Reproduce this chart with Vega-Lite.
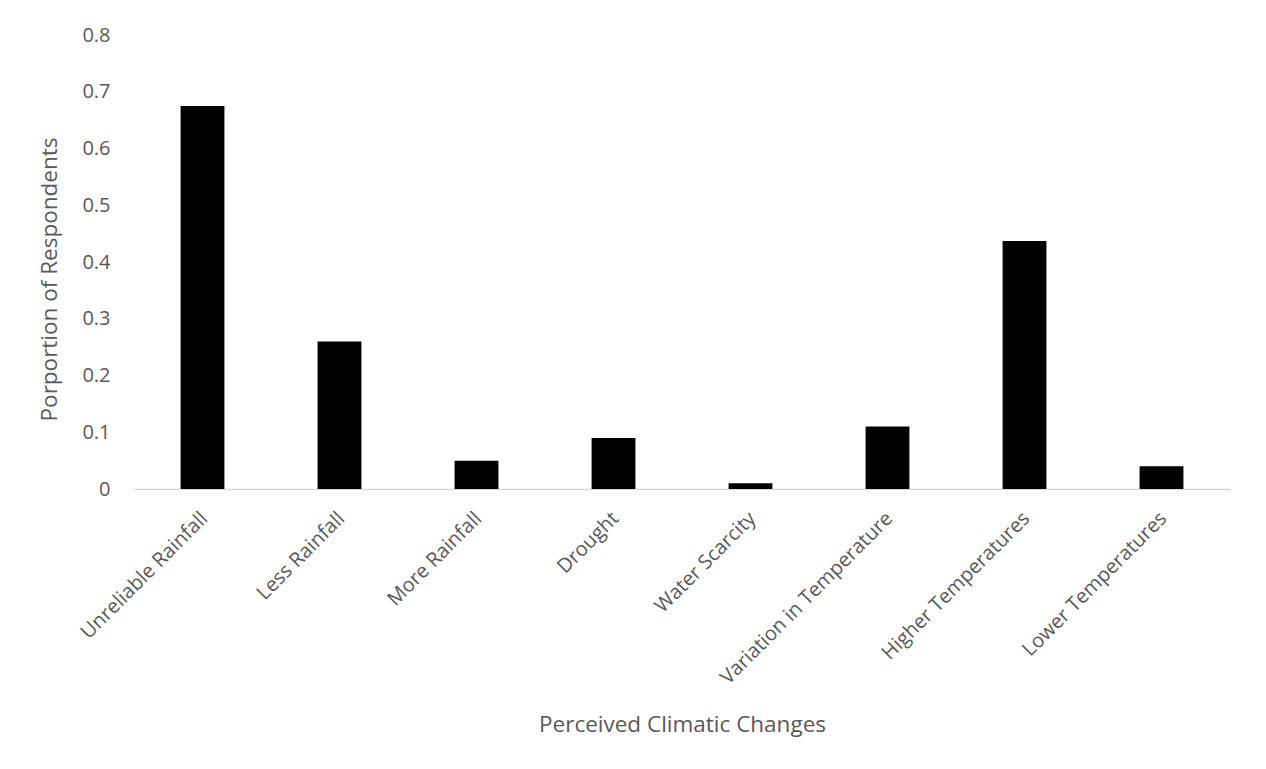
{
  "$schema": "https://vega.github.io/schema/vega-lite/v6.json",
  "autosize": "none",
  "width": 1096,
  "height": 454,
  "padding": {"left": 134, "top": 35, "right": 36, "bottom": 280},
  "background": "white",
  "data": {
    "values": [
      {"change": "Unreliable Rainfall", "proportion": 0.675},
      {"change": "Less Rainfall", "proportion": 0.26},
      {"change": "More Rainfall", "proportion": 0.05},
      {"change": "Drought", "proportion": 0.09},
      {"change": "Water Scarcity", "proportion": 0.01},
      {"change": "Variation in Temperature", "proportion": 0.11},
      {"change": "Higher Temperatures", "proportion": 0.437},
      {"change": "Lower Temperatures", "proportion": 0.04}
    ]
  },
  "mark": {"type": "bar", "color": "#000000"},
  "encoding": {
    "x": {
      "field": "change",
      "type": "nominal",
      "sort": null,
      "scale": {"paddingInner": 0.68, "paddingOuter": 0.34},
      "axis": {
        "title": "Perceived Climatic Changes",
        "labelAngle": -45,
        "labelAlign": "right",
        "labelBaseline": "top",
        "labelPadding": 19,
        "labelOffset": -5,
        "labelLimit": 0,
        "ticks": false,
        "domainColor": "#d9d9d9",
        "domainWidth": 1.5,
        "titlePadding": 26
      }
    },
    "y": {
      "field": "proportion",
      "type": "quantitative",
      "scale": {"domain": [0, 0.8], "nice": false},
      "axis": {
        "title": "Porportion of Respondents",
        "values": [0, 0.1, 0.2, 0.3, 0.4, 0.5, 0.6, 0.7, 0.8],
        "format": ".1~f",
        "domain": false,
        "ticks": false,
        "grid": false,
        "labelPadding": 24,
        "titlePadding": 20,
        "titleY": 244
      }
    }
  },
  "config": {
    "view": {"stroke": null},
    "font": "Open Sans",
    "axis": {
      "labelFont": "Open Sans",
      "labelFontSize": 20,
      "labelColor": "#595959",
      "titleFont": "Open Sans",
      "titleFontSize": 22.5,
      "titleFontWeight": "normal",
      "titleColor": "#595959"
    }
  }
}
